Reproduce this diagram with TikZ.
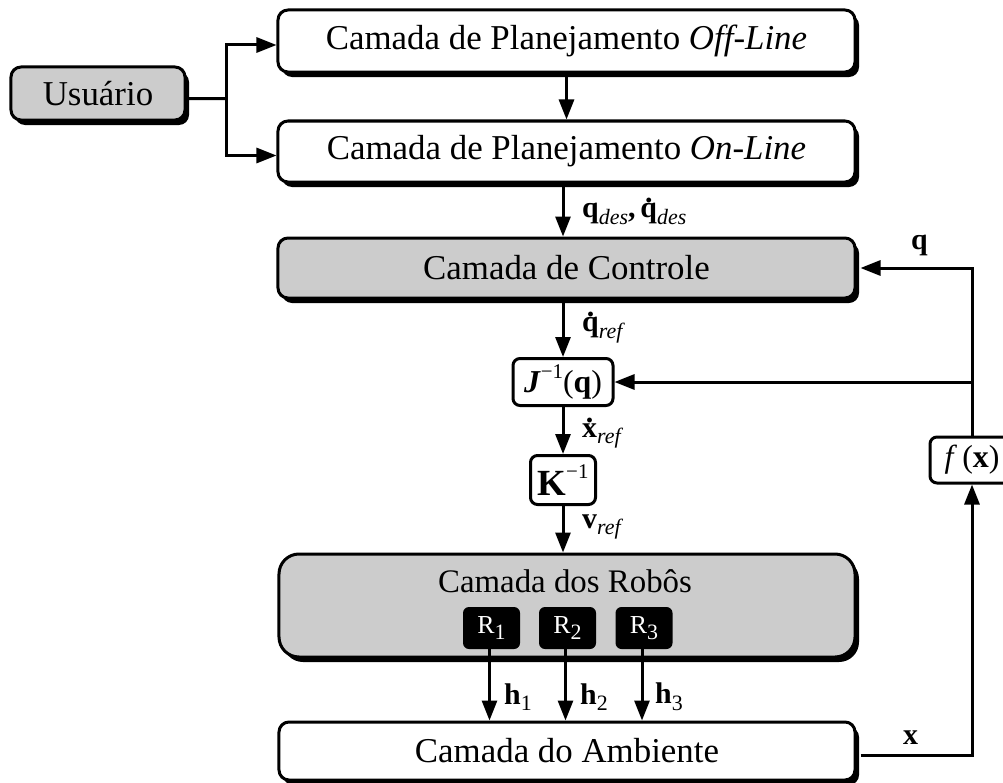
\documentclass[tikz,border=0pt]{standalone}
\usepackage{fontspec}
\setmainfont{Liberation Serif}
\usetikzlibrary{arrows.meta,shadows}
\definecolor{boxgray}{RGB}{204,204,204}
\newcommand\dotb[1]{{\ooalign{\textbf{#1}\cr\hidewidth\raisebox{0.5em}{\textbf{.}}\hidewidth\cr}}}
\newcommand\lab{\fontsize{30}{34}\selectfont}
\newcommand\sublab[1]{\raisebox{-0.22em}{\fontsize{22}{24}\selectfont\itshape #1}}
\newcommand\subup[1]{\raisebox{-0.22em}{\fontsize{22}{24}\selectfont #1}}
\newcommand\supm{\raisebox{0.45em}{\fontsize{21}{22}\selectfont −1}}
\begin{document}
\begin{tikzpicture}[x=1bp,y=-1bp,
  line/.style={line width=3bp},
  arr/.style={line width=3bp,-{Triangle[length=20bp,width=15bp]}},
  layer/.style={draw,line width=3bp,rounded corners=10bp,inner sep=0pt,
    minimum width=577bp,fill=white,font=\fontsize{35}{40}\selectfont,
    drop shadow={shadow xshift=4bp,shadow yshift=-5bp,opacity=1,fill=black}},
  grayl/.style={layer,fill=boxgray},
  small/.style={draw,line width=3bp,rounded corners=7bp,inner sep=0pt,fill=white},
  robot/.style={fill=black,rounded corners=6bp,inner sep=0pt,minimum width=57bp,
    minimum height=42bp,text=white,font=\fontsize{26}{30}\selectfont},
  lbl/.style={anchor=west,inner sep=0pt,font=\lab}]
\useasboundingbox (0,0) rectangle (1003,783);
\fill[white] (0,0) rectangle (1003,783);
% nodes
\node[grayl,minimum width=174bp,minimum height=53bp] (usr) at (98,93.5) {Usuário};
\node[layer,minimum height=62bp] (off) at (566.5,41) {Camada de Planejamento \textit{Off-Line}};
\node[layer,minimum height=61bp] (on) at (566.5,151.5) {Camada de Planejamento \textit{On-Line}};
\node[grayl,minimum height=60bp] (ctrl) at (566.5,268) {Camada de Controle};
\node[small,minimum width=100bp,minimum height=47bp,font=\fontsize{32}{36}\selectfont] (J) at (563,382)
  {\textbf{\textit{J}}\supm(\textbf{q})};
\node[small,minimum width=65bp,minimum height=49bp,font=\fontsize{37}{40}\selectfont] (K) at (563,480)
  {\textbf{K}\supm};
\node[grayl,minimum width=576bp,minimum height=103bp,rounded corners=20bp] (rob) at (567,605.5) {};
\node[font=\fontsize{33}{38}\selectfont,inner sep=0pt] (robt) at (565,581) {Camada dos Robôs};
\node[robot] (r1) at (491.5,628) {R\subup{1}};
\node[robot] (r2) at (567.5,628) {R\subup{2}};
\node[robot] (r3) at (644,628) {R\subup{3}};
\node[layer,minimum width=576bp,minimum height=58bp] (amb) at (567,751) {Camada do Ambiente};
\node[small,minimum width=84bp,minimum height=46bp,font=\fontsize{32}{36}\selectfont] (fx) at (972,460)
  {\textit{f}\,(\textbf{x})\hspace{8bp}};
% connectors
\coordinate (br) at (226,98.5);
\coordinate (col) at (563,0);
\draw[line] ([yshift=-5bp]usr.east) -- (br);
\draw[arr] (br) |- ([yshift=-4bp]off.west);
\draw[arr] (br) |- ([yshift=-4bp]on.west);
\draw[arr] (off.south) -- (on.north);
\draw[arr] (col |- on.south) -- (col |- ctrl.north);
\draw[arr] (col |- ctrl.south) -- (J.north);
\draw[arr] (J.south) -- (K.north);
\draw[arr] (K.south) -- (col |- rob.north);
\draw[arr] ([xshift=-2bp]r1.south) -- ([xshift=-2bp]r1.south |- amb.north);
\draw[arr] ([xshift=-2bp]r2.south) -- ([xshift=-2bp]r2.south |- amb.north);
\draw[arr] ([xshift=-2bp]r3.south) -- ([xshift=-2bp]r3.south |- amb.north);
\draw[arr] ([xshift=4bp,yshift=-4bp]amb.east) -| (fx.south);
\draw[arr] (fx.north) |- ([xshift=4bp]ctrl.east);
\draw[arr] (fx.north |- J.east) -- (J.east);
% labels
\node[lbl] (lqdes) at (582,214) {\textbf{q}\sublab{des}\textbf{,}\,\dotb{q}\sublab{des}};
\node[lbl] (lq) at (911,245) {\textbf{q}};
\node[lbl] (lqref) at (582,330) {\dotb{q}\sublab{ref}};
\node[lbl] (lxref) at (582,436) {\dotb{x}\sublab{ref}};
\node[lbl] (lvref) at (582,527) {\textbf{v}\sublab{ref}};
\node[lbl] (lh1) at (504,697) {\textbf{h}\subup{1}};
\node[lbl] (lh2) at (580,697) {\textbf{h}\subup{2}};
\node[lbl] (lh3) at (655,697) {\textbf{h}\subup{3}};
\node[lbl] (lx) at (903,738) {\textbf{x}};
\end{tikzpicture}
\end{document}
